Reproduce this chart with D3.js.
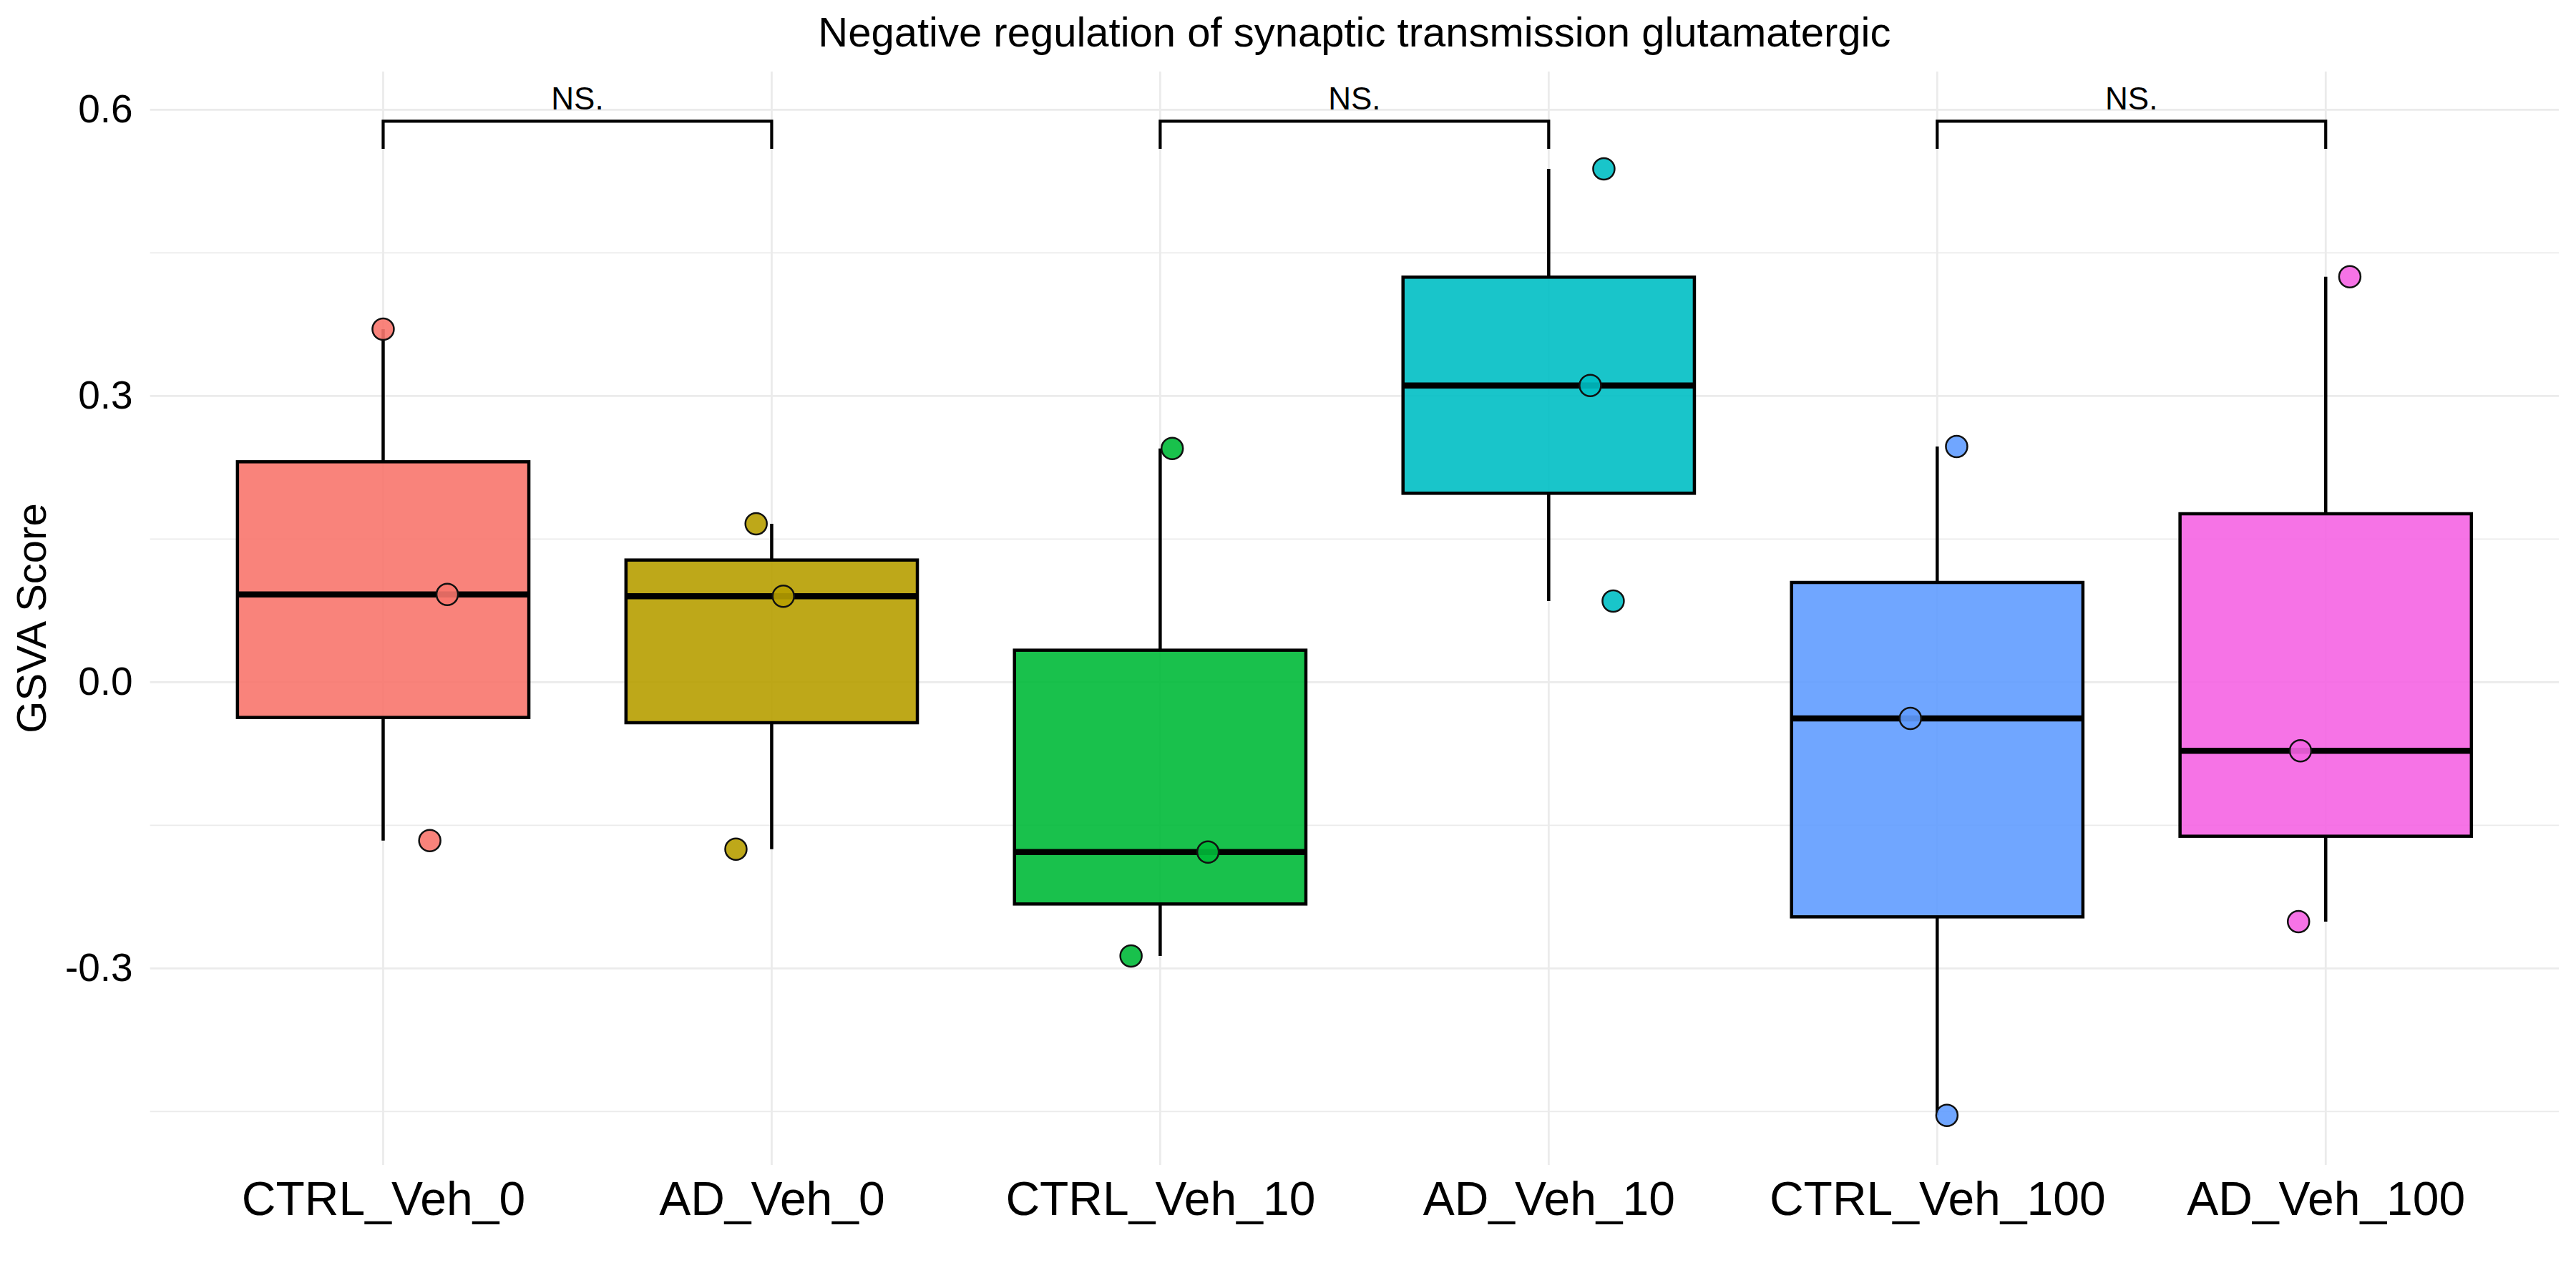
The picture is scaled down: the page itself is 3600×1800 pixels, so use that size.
<!DOCTYPE html>
<html>
<head>
  <meta charset="UTF-8">
  <script src="https://d3js.org/d3.v7.min.js"></script>
<style>
  body {
      margin: 0;
      background: #fff;
  }
  text {
      font-family: "Liberation Sans", Arial, sans-serif;
  }
  </style>
</head>
<body>
<div id="my_dataviz"></div>
</body>
</html>

<script>

// groups in plot order
var groups = ["CTRL_Veh_0", "AD_Veh_0", "CTRL_Veh_10", "AD_Veh_10", "CTRL_Veh_100", "AD_Veh_100"];
var groupColors = ["#F8766D", "#B79F00", "#00BA38", "#00BFC4", "#619CFF", "#F564E3"];

// GSVA scores, 3 samples per group
var scores = [
  [0.370, 0.092, -0.166],
  [0.166, 0.090, -0.175],
  [0.245, -0.178, -0.287],
  [0.538, 0.311, 0.085],
  [0.247, -0.038, -0.454],
  [0.425, -0.072, -0.251]
];
// horizontal jitter of each point, as a fraction of the category step
var jitter = [
  [0.000, 0.165, 0.120],
  [-0.040, 0.030, -0.092],
  [0.031, 0.123, -0.075],
  [0.142, 0.107, 0.166],
  [0.050, -0.069, 0.025],
  [0.062, -0.065, -0.070]
];

// significance brackets
var comparisons = [[0, 1], [2, 3], [4, 5]];
var compLabels = ["NS.", "NS.", "NS."];
var bracketY = 0.588;
var bracketTip = 0.559;

var yTicks = [-0.3, 0, 0.3, 0.6];
var yTickLabels = ["-0.3", "0.0", "0.3", "0.6"];
var yMinor = [-0.45, -0.15, 0.15, 0.45];

var chartTitle = "Negative regulation of synaptic transmission glutamatergic";
var yTitle = "GSVA Score";

var W = 3600, H = 1800;
var panel = {left: 209.7, right: 3576, top: 100, bottom: 1628};

var svg = d3.select("#my_dataviz")
  .append("svg")
    .attr("width", W)
    .attr("height", H);

var x = d3.scalePoint()
  .domain(groups)
  .range([panel.left, panel.right])
  .padding(0.6);

var y = d3.scaleLinear()
  .domain([-0.506, 0.640])
  .range([panel.bottom, panel.top]);

var step = x.step();
var boxW = step * 0.75;

// grid
var grid = svg.append("g");
grid.selectAll(".minor")
  .data(yMinor)
  .enter()
  .append("line")
    .attr("x1", panel.left).attr("x2", panel.right)
    .attr("y1", function(d) { return y(d); })
    .attr("y2", function(d) { return y(d); })
    .attr("stroke", "#ebebeb")
    .attr("stroke-width", 1.8);
grid.selectAll(".major")
  .data(yTicks)
  .enter()
  .append("line")
    .attr("x1", panel.left).attr("x2", panel.right)
    .attr("y1", function(d) { return y(d); })
    .attr("y2", function(d) { return y(d); })
    .attr("stroke", "#ebebeb")
    .attr("stroke-width", 2.8);
grid.selectAll(".vert")
  .data(groups)
  .enter()
  .append("line")
    .attr("x1", function(d) { return x(d); })
    .attr("x2", function(d) { return x(d); })
    .attr("y1", panel.top).attr("y2", panel.bottom)
    .attr("stroke", "#ebebeb")
    .attr("stroke-width", 2.8);

// box stats (R type 7 quantiles)
var boxData = groups.map(function(g, i) {
  var v = scores[i].slice().sort(d3.ascending);
  return {
    group: g,
    color: groupColors[i],
    min: v[0],
    q1: d3.quantileSorted(v, 0.25),
    med: d3.quantileSorted(v, 0.5),
    q3: d3.quantileSorted(v, 0.75),
    max: v[v.length - 1]
  };
});

var boxes = svg.selectAll(".box")
  .data(boxData)
  .enter()
  .append("g");

// whiskers
boxes.append("line")
  .attr("x1", function(d) { return x(d.group); })
  .attr("x2", function(d) { return x(d.group); })
  .attr("y1", function(d) { return y(d.max); })
  .attr("y2", function(d) { return y(d.q3); })
  .attr("stroke", "#000").attr("stroke-width", 4.5);
boxes.append("line")
  .attr("x1", function(d) { return x(d.group); })
  .attr("x2", function(d) { return x(d.group); })
  .attr("y1", function(d) { return y(d.q1); })
  .attr("y2", function(d) { return y(d.min); })
  .attr("stroke", "#000").attr("stroke-width", 4.5);

boxes.append("rect")
  .attr("x", function(d) { return x(d.group) - boxW / 2; })
  .attr("y", function(d) { return y(d.q3); })
  .attr("width", boxW)
  .attr("height", function(d) { return y(d.q1) - y(d.q3); })
  .attr("fill", function(d) { return d.color; })
  .attr("fill-opacity", 0.9)
  .attr("stroke", "#000")
  .attr("stroke-width", 4.5);

boxes.append("line")
  .attr("x1", function(d) { return x(d.group) - boxW / 2; })
  .attr("x2", function(d) { return x(d.group) + boxW / 2; })
  .attr("y1", function(d) { return y(d.med); })
  .attr("y2", function(d) { return y(d.med); })
  .attr("stroke", "#000").attr("stroke-width", 8.5);

// points
var pts = [];
groups.forEach(function(g, i) {
  scores[i].forEach(function(v, j) {
    pts.push({group: g, value: v, off: jitter[i][j], color: groupColors[i]});
  });
});

svg.selectAll(".pt")
  .data(pts)
  .enter()
  .append("circle")
    .attr("cx", function(d) { return x(d.group) + d.off * step; })
    .attr("cy", function(d) { return y(d.value); })
    .attr("r", 15)
    .attr("fill", function(d) { return d.color; })
    .attr("fill-opacity", 0.9)
    .attr("stroke", "#111")
    .attr("stroke-width", 2.5);

// brackets
var br = svg.selectAll(".bracket")
  .data(comparisons)
  .enter()
  .append("g");

br.append("path")
  .attr("d", function(d) {
    var x1 = x(groups[d[0]]), x2 = x(groups[d[1]]);
    return "M" + x1 + "," + y(bracketTip) + "V" + y(bracketY) + "H" + x2 + "V" + y(bracketTip);
  })
  .attr("fill", "none")
  .attr("stroke", "#000")
  .attr("stroke-width", 4.2);

br.append("text")
  .attr("x", function(d) { return (x(groups[d[0]]) + x(groups[d[1]])) / 2; })
  .attr("y", y(bracketY) - 16)
  .attr("text-anchor", "middle")
  .style("font-size", "44px")
  .text(function(d, i) { return compLabels[i]; });

// Y axis
var yAxis = svg.append("g")
  .attr("transform", "translate(" + panel.left + ",0)")
  .call(d3.axisLeft(y)
    .tickValues(yTicks)
    .tickSize(0)
    .tickPadding(24)
    .tickFormat(function(d, i) { return yTickLabels[i]; }));
yAxis.select(".domain").remove();
yAxis.selectAll("text")
  .style("font-size", "55px")
  .attr("fill", "#000");

// X axis
var xAxis = svg.append("g")
  .attr("transform", "translate(0," + panel.bottom + ")")
  .call(d3.axisBottom(x).tickSize(0));
xAxis.select(".domain").remove();
xAxis.selectAll("text")
  .attr("y", 70)
  .attr("dy", null)
  .style("font-size", "66px")
  .attr("fill", "#000");

// titles (title centred on the panel)
svg.append("text")
  .attr("x", (panel.left + panel.right) / 2)
  .attr("y", 65)
  .attr("text-anchor", "middle")
  .style("font-size", "58px")
  .text(chartTitle);

svg.append("text")
  .attr("transform", "translate(64," + ((panel.top + panel.bottom) / 2) + ")rotate(-90)")
  .attr("text-anchor", "middle")
  .style("font-size", "58px")
  .text(yTitle);

</script>
